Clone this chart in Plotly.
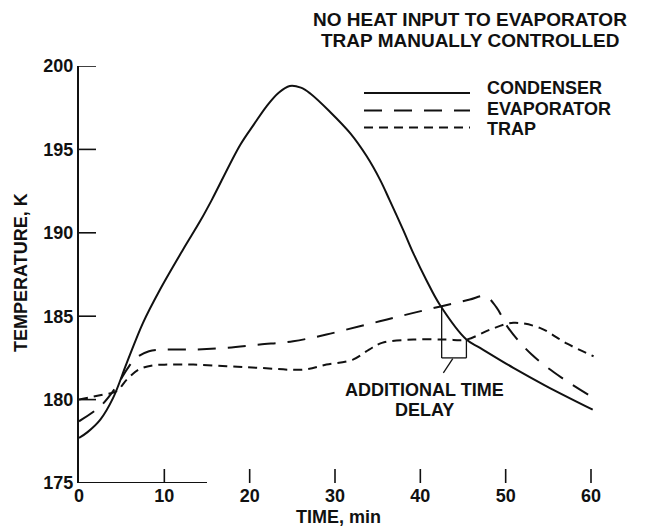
import plotly.graph_objects as go

# ---- data ----
t_cond = [0, 1, 2.5, 4, 5.6, 7.5, 9.5, 12.2, 14.2, 15.55, 18.87, 20.5, 22.0, 23.4,
          24.7, 26, 27.1, 29.4, 31.8, 33.7, 35.3, 36.4, 38.0, 39.2, 40.7, 42.3,
          45.4, 47, 50.9, 54.8, 60.2]
y_cond = [177.7, 178.05, 178.8, 180.1, 182.2, 184.6, 186.6, 189.0, 190.7, 191.96,
          195.25, 196.5, 197.6, 198.4, 198.8, 198.7, 198.35, 197.26, 195.96, 194.6,
          193.16, 191.96, 190.16, 188.75, 187.17, 185.67, 183.6, 183.1, 181.9, 180.8,
          179.4]

t_evap = [0, 2.5, 4.4, 5.6, 6.7, 8.2, 9.8, 13.4, 17.3, 21.2, 25.1, 29, 32.9, 36.1,
          39.2, 42.5, 45.8, 47.6, 48.9, 50.3, 53.05, 56.6, 60.3]
y_evap = [178.7, 179.6, 180.8, 181.8, 182.5, 182.9, 183.0, 183.0, 183.1, 183.3, 183.5,
          183.9, 184.4, 184.8, 185.2, 185.6, 186.0, 186.2, 185.55, 184.3, 182.7,
          181.3, 180.1]

t_trap = [0, 2.8, 4.4, 5.6, 7.0, 8.6, 10.5, 13.4, 17.3, 21.2, 26.3, 29, 32.1, 34, 35.5,
          39.2, 43, 45.4, 48.2, 50.9, 54, 57.2, 60.3]
y_trap = [180.0, 180.3, 180.5, 181.2, 181.8, 182.05, 182.1, 182.1, 182.0, 181.9, 181.8,
          182.1, 182.4, 183.0, 183.4, 183.6, 183.6, 183.6, 184.2, 184.6, 184.3,
          183.35, 182.6]

series_names = ["CONDENSER", "EVAPORATOR", "TRAP"]
x_ticks = [0, 10, 20, 30, 40, 50, 60]
y_ticks = [175, 180, 185, 190, 195, 200]

title_lines = ["NO HEAT INPUT TO EVAPORATOR", "TRAP MANUALLY CONTROLLED"]
note_lines = ["ADDITIONAL TIME", "DELAY"]

# ---- layout constants ----
W, H = 647, 527
L, R, T, B = 79, 43, 66, 44
PW, PH = W - L - R, H - T - B
INK = "#111111"
FONT = "Liberation Sans"
DASHES = ["solid", "18px,12px", "9px,6px"]
XTICK_LEN, YTICK_LEN = 14, 17


def px(xp):
    return (xp - L) / PW


def py(yp):
    return (T + PH - yp) / PH


fig = go.Figure()
for name, xs, ys, dash in zip(series_names, [t_cond, t_evap, t_trap],
                              [y_cond, y_evap, y_trap], DASHES):
    fig.add_trace(go.Scatter(x=xs, y=ys, mode="lines", name=name,
                             line=dict(color=INK, width=2, dash=dash,
                                       shape="spline", smoothing=1.0),
                             showlegend=False, hoverinfo="skip"))

shapes = []
annotations = []

# partial x-axis baseline
shapes.append(dict(type="line", xref="x", yref="y", x0=0, x1=15, y0=175, y1=175,
                   line=dict(color=INK, width=2)))

# inward tick marks
for v in x_ticks[1:]:
    shapes.append(dict(type="line", xref="x", yref="paper", x0=v, x1=v,
                       y0=0, y1=XTICK_LEN / PH, line=dict(color=INK, width=1.6)))
for v in y_ticks[1:]:
    shapes.append(dict(type="line", xref="paper", yref="y", x0=0, x1=YTICK_LEN / PW,
                       y0=v, y1=v, line=dict(color=INK, width=1.6)))

# time-delay bracket
shapes += [
    dict(type="line", xref="x", yref="y", x0=42.5, x1=42.5, y0=185.6, y1=182.5,
         line=dict(color=INK, width=1.3)),
    dict(type="line", xref="x", yref="y", x0=42.5, x1=45.4, y0=182.5, y1=182.5,
         line=dict(color=INK, width=1.3)),
    dict(type="line", xref="x", yref="y", x0=45.4, x1=45.4, y0=182.5, y1=183.6,
         line=dict(color=INK, width=1.3)),
    dict(type="line", xref="x", yref="y", x0=43.8, x1=42.7, y0=182.45, y1=181.6,
         line=dict(color=INK, width=1.3)),
]

# manual legend
leg_line_y = [93, 110.5, 127.5]
leg_text_y = [88, 109, 129]
for name, dash, ly, ty in zip(series_names, DASHES, leg_line_y, leg_text_y):
    shapes.append(dict(type="line", xref="paper", yref="paper", x0=px(364), x1=px(470),
                       y0=py(ly), y1=py(ly), line=dict(color=INK, width=2, dash=dash)))
    annotations.append(dict(xref="paper", yref="paper", x=px(485), y=py(ty), text=name,
                            showarrow=False, xanchor="left", yanchor="middle",
                            font=dict(family=FONT, size=18, color=INK, weight="bold")))

# title
for txt, yc in zip(title_lines, [19, 41]):
    annotations.append(dict(xref="paper", yref="paper", x=px(470), y=py(yc), text=txt,
                            showarrow=False, xanchor="center", yanchor="middle",
                            font=dict(family=FONT, size=19, color=INK, weight="bold")))

# note text
for txt, yv in zip(note_lines, [180.58, 179.38]):
    annotations.append(dict(xref="x", yref="y", x=40.5, y=yv, text=txt,
                            showarrow=False, xanchor="center", yanchor="middle",
                            font=dict(family=FONT, size=18, color=INK, weight="bold")))

# axis titles
annotations.append(dict(xref="paper", yref="paper", x=px(338), y=py(517), text="TIME, min",
                        showarrow=False, xanchor="center", yanchor="middle",
                        font=dict(family=FONT, size=18, color=INK, weight="bold")))
annotations.append(dict(xref="paper", yref="paper", x=px(21), y=py(273),
                        text="TEMPERATURE, K", textangle=-90,
                        showarrow=False, xanchor="center", yanchor="middle",
                        font=dict(family=FONT, size=18, color=INK, weight="bold")))

fig.update_layout(
    width=W, height=H,
    margin=dict(l=L, r=R, t=T, b=B, pad=0),
    paper_bgcolor="white", plot_bgcolor="white",
    shapes=shapes, annotations=annotations,
    showlegend=False,
    font=dict(family=FONT, size=18, color=INK),
)
fig.update_xaxes(range=[0, PW / (591 - 79) * 60], tickmode="array", tickvals=x_ticks,
                 ticktext=[str(v) for v in x_ticks],
                 showline=False, showgrid=False, zeroline=False, ticks="",
                 tickfont=dict(family=FONT, size=18, color=INK, weight="bold"))
fig.update_yaxes(range=[175, 200], tickmode="array", tickvals=y_ticks,
                 ticktext=[str(v) for v in y_ticks],
                 showline=True, linewidth=2, linecolor=INK,
                 showgrid=False, zeroline=False, ticks="",
                 tickfont=dict(family=FONT, size=18, color=INK, weight="bold"))

fig.write_html("out.html")
